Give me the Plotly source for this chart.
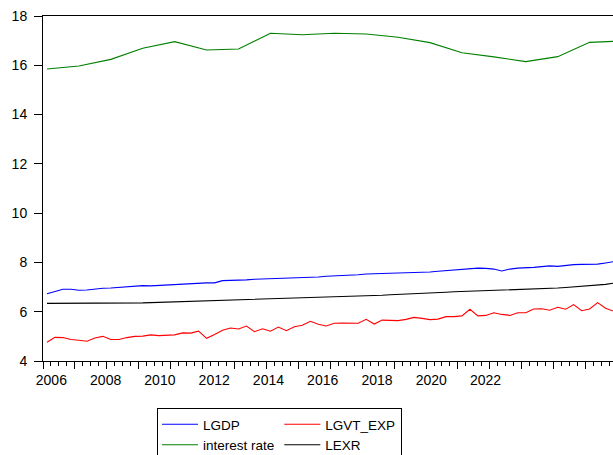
import plotly.graph_objects as go

# ---------------- data ----------------
years = list(range(2006, 2024))
quarters = [f"{y}Q{q}" for y in years for q in range(1, 5)]

lgdp = [6.73, 6.81, 6.91, 6.91, 6.87, 6.88, 6.93, 6.95, 6.96, 6.99,
        7.03, 7.04, 7.06, 7.05, 7.07, 7.10, 7.10, 7.11, 7.14, 7.15,
        7.17, 7.17, 7.26, 7.27, 7.27, 7.29, 7.32, 7.33, 7.32, 7.33,
        7.34, 7.36, 7.37, 7.38, 7.41, 7.44, 7.45, 7.48, 7.49, 7.50,
        7.53, 7.54, 7.54, 7.54, 7.54, 7.56, 7.58, 7.60, 7.61, 7.64,
        7.67, 7.69, 7.71, 7.76, 7.77, 7.76, 7.73, 7.65, 7.73, 7.77,
        7.77, 7.80, 7.83, 7.86, 7.84, 7.88, 7.91, 7.92, 7.92, 7.93,
        7.98, 8.03]

lgvt_exp = [4.76, 4.96, 4.95, 4.87, 4.84, 4.80, 4.93, 5.00, 4.87, 4.87,
            4.95, 5.00, 5.01, 5.06, 5.03, 5.04, 5.06, 5.14, 5.13, 5.21,
            4.92, 5.08, 5.25, 5.34, 5.30, 5.42, 5.19, 5.31, 5.21, 5.38,
            5.23, 5.39, 5.45, 5.61, 5.49, 5.42, 5.53, 5.54, 5.54, 5.53,
            5.69, 5.50, 5.66, 5.65, 5.64, 5.69, 5.77, 5.73, 5.68, 5.70,
            5.80, 5.80, 5.83, 6.10, 5.83, 5.85, 5.96, 5.89, 5.85, 5.96,
            5.96, 6.11, 6.12, 6.06, 6.18, 6.10, 6.29, 6.04, 6.11, 6.37,
            6.14, 6.02]

lexr = [6.34, 6.34, 6.34, 6.33, 6.33, 6.33, 6.33, 6.33, 6.33, 6.34,
        6.35, 6.35, 6.36, 6.37, 6.38, 6.38, 6.39, 6.40, 6.40, 6.41,
        6.42, 6.43, 6.44, 6.45, 6.46, 6.47, 6.48, 6.49, 6.50, 6.51,
        6.52, 6.53, 6.54, 6.55, 6.56, 6.57, 6.58, 6.60, 6.61, 6.63,
        6.64, 6.66, 6.67, 6.69, 6.70, 6.72, 6.73, 6.75, 6.76, 6.78,
        6.79, 6.81, 6.82, 6.84, 6.85, 6.86, 6.87, 6.88, 6.89, 6.90,
        6.91, 6.92, 6.93, 6.95, 6.96, 6.98, 7.00, 7.02, 7.04, 7.07,
        7.11, 7.16]

rate_quarters = [f"{y}Q1" for y in years] + ["2023Q4"]
interest_rate = [15.85, 15.97, 16.24, 16.69, 16.96, 16.62, 16.66, 17.30,
                 17.24, 17.30, 17.27, 17.14, 16.92, 16.51, 16.34, 16.15,
                 16.35, 16.93, 16.97]

year_labels = ["2006", "2008", "2010", "2012", "2014", "2016", "2018", "2020", "2022"]

# ---------------- figure ----------------
idx = list(range(len(quarters)))
rate_idx = [quarters.index(q) for q in rate_quarters]
label_pos = [0.55 + 6.80 * i for i in range(len(year_labels))]

FONT = "Liberation Sans, Arial, sans-serif"
xrange = [-0.5, 70.93]

fig = go.Figure()
fig.add_trace(go.Scatter(x=idx, y=lgdp, name="LGDP", mode="lines",
                         line=dict(color="#0000FF", width=1.1), legendgroup="a"))
fig.add_trace(go.Scatter(x=idx, y=lgvt_exp, name="LGVT_EXP", mode="lines",
                         line=dict(color="#FF0000", width=1.1), legendgroup="b"))
fig.add_trace(go.Scatter(x=rate_idx, y=interest_rate, name="interest rate", mode="lines",
                         line=dict(color="#008000", width=1.1), legendgroup="a"))
fig.add_trace(go.Scatter(x=idx, y=lexr, name="LEXR", mode="lines",
                         line=dict(color="#000000", width=1.1), legendgroup="b"))
# carrier for the year-label axis
fig.add_trace(go.Scatter(x=[None], y=[None], xaxis="x2", yaxis="y",
                         showlegend=False, hoverinfo="skip"))

fig.update_layout(
    template="none",
    width=613, height=455,
    margin=dict(l=43, r=0, t=16, b=94, autoexpand=False),
    paper_bgcolor="white", plot_bgcolor="white",
    font=dict(family=FONT, size=14, color="black"),
    showlegend=True,
    xaxis=dict(range=xrange, showgrid=False, zeroline=False, automargin=False,
               showline=True, linecolor="black", linewidth=1, mirror=True,
               ticks="outside", ticklen=7, tickcolor="black", tickwidth=1,
               tick0=-0.5, dtick=4, showticklabels=False,
               minor=dict(ticks="outside", ticklen=4, tickcolor="black",
                          tick0=-0.5, dtick=1, showgrid=False)),
    xaxis2=dict(range=xrange, overlaying="x", side="bottom", anchor="y",
                automargin=False, showgrid=False, zeroline=False, showline=False,
                ticks="", tickmode="array", tickvals=label_pos, ticktext=year_labels,
                ticklabelstandoff=9,
                tickfont=dict(family=FONT, size=14, color="black")),
    yaxis=dict(range=[4, 18], tick0=4, dtick=2, showgrid=False, zeroline=False,
               automargin=False,
               showline=True, linecolor="black", linewidth=1,
               ticks="outside", ticklen=8, tickcolor="black",
               ticklabelstandoff=4,
               tickfont=dict(family=FONT, size=14, color="black")),
    legend=dict(orientation="h", traceorder="grouped",
                x=0.2, xanchor="left", y=-0.1362, yanchor="top",
                bordercolor="black", borderwidth=1, bgcolor="white",
                itemwidth=36,
                font=dict(family=FONT, size=13.5, color="black")),
)

fig.write_html("out.html", config={"displayModeBar": False},
               post_script="document.body.style.margin='0';document.body.style.overflow='hidden';")
